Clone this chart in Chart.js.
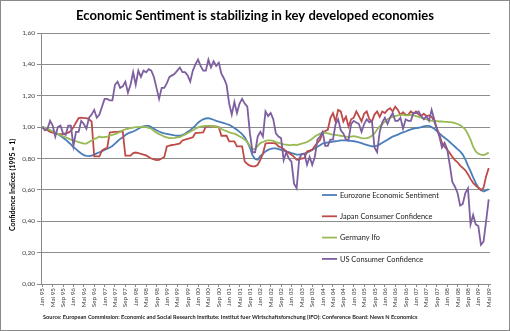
<!DOCTYPE html>
<html>
<head>
<meta charset="utf-8">
<script src="https://cdn.jsdelivr.net/npm/chart.js@4"></script>
<style>
  html, body { margin: 0; padding: 0; background: #fff; }
  #wrap { width: 510px; height: 331px; }
</style>
</head>
<body>
<div id="wrap"><canvas id="sentiment" width="510" height="331"></canvas></div>
<script>
// Monthly confidence indices, Jan 1995 = 1
const MONTHS = ['Jan', 'Feb', 'Mrz', 'Apr', 'Mai', 'Jun', 'Jul', 'Aug', 'Sep', 'Okt', 'Nov', 'Dez'];
const YEARS = ['95', '96', '97', '98', '99', '00', '01', '02', '03', '04', '05', '06', '07', '08', '09'];
const LAST_MONTHS_2009 = 5;

const eurozone = [
  1.00, .995, .99, .98, .97, .962, .955, .945, .932, .92, .905, .89,
  .872, .86, .845, .832, .822, .817, .815, .818, .825, .833, .84, .847,
  .855, .862, .87, .88, .895, .91, .925, .935, .95, .96, .966, .972,
  .98, .99, 1.0, 1.005, 1.008, 1.008, 1.0, .99, .98, .972, .965, .96,
  .957, .954, .95, .947, .945, .945, .95, .958, .97, .98, .995, 1.01,
  1.028, 1.04, 1.05, 1.055, 1.057, 1.052, 1.047, 1.04, 1.035, 1.03, 1.025, 1.02,
  1.015, 1.005, .995, .983, .97, .955, .935, .905, .87, .82, .797, .792,
  .815, .83, .845, .855, .862, .865, .865, .86, .855, .85, .845, .84,
  .835, .83, .825, .825, .828, .832, .838, .845, .855, .865, .875, .885,
  .895, .9, .902, .905, .908, .91, .912, .915, .915, .915, .913, .912,
  .91, .907, .903, .898, .892, .887, .882, .878, .877, .882, .89, .9,
  .91, .92, .93, .94, .946, .952, .96, .966, .972, .979, .985, .99,
  .993, .996, 1.0, 1.005, 1.008, 1.008, 1.0, .99, .975, .96, .945, .932,
  .92, .905, .89, .875, .86, .845, .825, .795, .755, .72, .68, .645,
  .615, .6, .59, .597, .605
];

const japan = [
  1.0, .99, .98, .97, .965, .96, .957, .955, .955, .96, .965, .975,
  1.0, 1.03, 1.057, 1.06, 1.058, 1.057, 1.05, 1.036, .813, .813, .813, .85,
  .862, .867, .966, .968, .97, .97, .972, .972, .818, .818, .818, .835,
  .838, .835, .83, .825, .82, .81, .8, .795, .79, .792, .8, .81,
  .877, .882, .886, .888, .892, .896, .915, .92, .925, .93, .935, .962,
  .964, .965, .966, 1.004, 1.005, 1.006, 1.005, 1.003, 1.0, .945, .945, .945,
  .909, .909, .909, .877, .877, .877, .78, .765, .755, .75, .75, .76,
  .792, .83, .895, .898, .898, .898, .895, .877, .87, .86, .845, .835,
  .824, .81, .792, .795, .8, .803, .845, .85, .856, .88, .9, .919,
  .962, .975, .983, 1.057, 1.089, 1.036, 1.11, 1.1, 1.036, 1.067, 1.004, 1.05,
  1.06, 1.1, 1.07, 1.036, 1.085, 1.1, 1.05, 1.036, 1.08, 1.1, 1.065, 1.1,
  1.09, 1.11, 1.121, 1.1, 1.131, 1.11, 1.078, 1.095, 1.08, 1.078, 1.1, 1.085,
  1.1, 1.08, 1.072, 1.085, 1.07, 1.075, 1.067, 1.036, .994, .951, .898, .875,
  .856, .835, .81, .79, .776, .755, .74, .725, .7, .67, .644, .628,
  .613, .598, .613, .686, .74
];

const germany = [
  1.00, .995, .99, .98, .972, .965, .957, .95, .942, .935, .928, .92,
  .915, .91, .905, .9, .895, .895, .905, .915, .925, .93, .94, .935,
  .937, .94, .945, .95, .955, .962, .97, .98, .985, .99, .994, .997,
  1.0, 1.0, 1.002, 1.003, 1.0, .995, .99, .975, .965, .955, .948, .94,
  .935, .93, .93, .932, .935, .937, .945, .952, .962, .97, .98, .99,
  .998, 1.003, 1.006, 1.008, 1.008, 1.006, 1.004, 1.004, .998, .988, .98, .975,
  .966, .962, .958, .951, .94, .932, .92, .905, .88, .86, .862, .88,
  .898, .905, .912, .915, .915, .912, .905, .9, .895, .89, .888, .885,
  .885, .888, .885, .89, .895, .9, .905, .915, .925, .94, .95, .958,
  .962, .965, .96, .955, .952, .95, .948, .945, .942, .94, .938, .94,
  .942, .94, .935, .93, .928, .93, .935, .945, .96, .985, 1.005, 1.02,
  1.035, 1.05, 1.06, 1.065, 1.07, 1.075, 1.078, 1.078, 1.075, 1.075, 1.078, 1.075,
  1.07, 1.065, 1.06, 1.055, 1.05, 1.045, 1.04, 1.04, 1.038, 1.036, 1.036, 1.034,
  1.034, 1.032, 1.03, 1.025, 1.02, 1.012, 1.0, .985, .955, .92, .875, .845,
  .83, .825, .822, .828, .838
];

const usConsumer = [
  1.00, .98, .99, 1.04, 1.01, .94, 1.00, 1.01, .96, .95, 1.01, 1.01,
  .88, .97, .97, 1.04, 1.02, .99, 1.06, 1.08, 1.11, 1.06, 1.08, 1.13,
  1.18, 1.18, 1.17, 1.17, 1.27, 1.29, 1.25, 1.26, 1.29, 1.22, 1.27, 1.35,
  1.27, 1.36, 1.32, 1.36, 1.35, 1.37, 1.36, 1.32, 1.25, 1.18, 1.25, 1.25,
  1.28, 1.32, 1.33, 1.34, 1.36, 1.38, 1.35, 1.35, 1.33, 1.29, 1.36, 1.40,
  1.43, 1.39, 1.36, 1.36, 1.43, 1.38, 1.42, 1.39, 1.41, 1.34, 1.31, 1.27,
  1.15, 1.08, 1.16, 1.09, 1.15, 1.18, 1.15, 1.13, .96, .84, .84, .94,
  .97, .94, 1.10, 1.07, 1.09, 1.05, .96, .94, .93, .79, .84, .80,
  .78, .64, .61, .80, .83, .83, .76, .81, .76, .81, .92, .94,
  .97, .88, .88, .92, .92, 1.02, 1.05, .98, .96, .92, .92, 1.02,
  1.04, 1.03, 1.02, .97, 1.02, 1.05, 1.03, 1.04, .87, .84, .97, 1.03,
  1.06, 1.02, 1.06, 1.09, 1.04, 1.04, 1.06, .99, 1.05, 1.04, 1.04, 1.09,
  1.09, 1.10, 1.07, 1.05, 1.07, 1.04, 1.11, 1.05, .99, .94, .87, .90,
  .86, .76, .65, .62, .58, .50, .51, .58, .61, .38, .44, .38,
  .37, .25, .27, .40, .54
];

const SERIES_NAMES = ['Eurozone Economic Sentiment', 'Japan Consumer Confidence', 'Germany Ifo', 'US Consumer Confidence'];
const SERIES_COLORS = ['#4a7ebb', '#be4b48', '#98b954', '#7d5fa0'];
const Y_TICKS = [0, 0.2, 0.4, 0.6, 0.8, 1.0, 1.2, 1.4, 1.6];

const TITLE = 'Economic Sentiment is stabilizing in key developed economies';
const Y_TITLE = 'Confidence Indices (1995 = 1)';
const SOURCE = 'Source: European Commission: Economic and Social Research Institute: Institut fuer Wirtschaftsforschung (IFO): Conference Board: News N Economics';

// month labels "Jan 95" ... "Mai 09"
const labels = [];
YEARS.forEach((y, yi) => {
  const n = yi === YEARS.length - 1 ? LAST_MONTHS_2009 : 12;
  for (let m = 0; m < n; m++) labels.push(MONTHS[m] + ' ' + y);
});

const FONT = 'Lato, "Open Sans", sans-serif';
const fmt = v => v.toFixed(2).replace('.', ',');

// title, rotated axis title, source line, in-plot legend and frame
const decorations = {
  id: 'decorations',
  afterDraw(chart) {
    const c = chart.ctx;
    c.save();
    c.fillStyle = '#000';
    c.textAlign = 'center';
    c.textBaseline = 'middle';
    c.font = 'bold 13px ' + FONT;
    c.fillText(TITLE, 255, 16);

    c.save();
    c.translate(13, 185);
    c.rotate(-Math.PI / 2);
    c.font = 'bold 7px ' + FONT;
    c.fillText(Y_TITLE, 0, 0);
    c.restore();

    c.textAlign = 'left';
    c.font = 'bold 5.6px ' + FONT;
    c.fillStyle = '#222';
    c.fillText(SOURCE, 43, 317);

    c.font = '7.4px ' + FONT;
    chart.data.datasets.forEach((ds, i) => {
      const y = 195 + i * 21.3;
      c.strokeStyle = ds.borderColor;
      c.lineWidth = 1.8;
      c.beginPath();
      c.moveTo(322, y);
      c.lineTo(337, y);
      c.stroke();
      c.fillStyle = '#1a1a1a';
      c.fillText(ds.label, 340, y + 0.5);
    });

    c.strokeStyle = '#8a8a8a';
    c.lineWidth = 1;
    c.strokeRect(0.5, 0.5, 509, 330);
    c.restore();
  }
};

const series = [eurozone, japan, germany, usConsumer];

new Chart(document.getElementById('sentiment'), {
  type: 'line',
  data: {
    labels,
    datasets: series.map((d, i) => ({
      label: SERIES_NAMES[i],
      data: d,
      borderColor: SERIES_COLORS[i],
      backgroundColor: SERIES_COLORS[i],
      borderWidth: 1.8,
      pointRadius: 0,
      tension: 0,
      order: series.length - i
    }))
  },
  options: {
    responsive: false,
    animation: false,
    layout: { padding: { left: 0, right: 20, top: 33, bottom: 0 } },
    plugins: {
      legend: { display: false },
      title: { display: false },
      tooltip: { enabled: false }
    },
    scales: {
      x: {
        offset: true,
        grid: {
          drawOnChartArea: false,
          tickLength: 3,
          tickColor: ctx => (ctx.index % 4 === 0 ? '#8a8a8a' : 'rgba(0,0,0,0)')
        },
        border: { color: '#8a8a8a' },
        ticks: {
          autoSkip: false,
          minRotation: 90,
          maxRotation: 90,
          padding: 1,
          color: '#404040',
          font: { family: FONT, size: 6.3 },
          callback: (v, i) => (i % 4 === 0 ? labels[i] : '')
        },
        afterFit: s => { s.height = 47; }
      },
      y: {
        min: 0,
        max: 1.6,
        afterBuildTicks: s => { s.ticks = Y_TICKS.map(v => ({ value: v })); },
        grid: { color: '#8c8c8c', tickLength: 4, tickColor: '#8a8a8a' },
        border: { color: '#8a8a8a' },
        ticks: {
          padding: 2,
          color: '#404040',
          font: { family: FONT, size: 6.5 },
          callback: v => fmt(v)
        },
        afterFit: s => { s.width = 41; }
      }
    }
  },
  plugins: [decorations]
});
</script>
</body>
</html>
